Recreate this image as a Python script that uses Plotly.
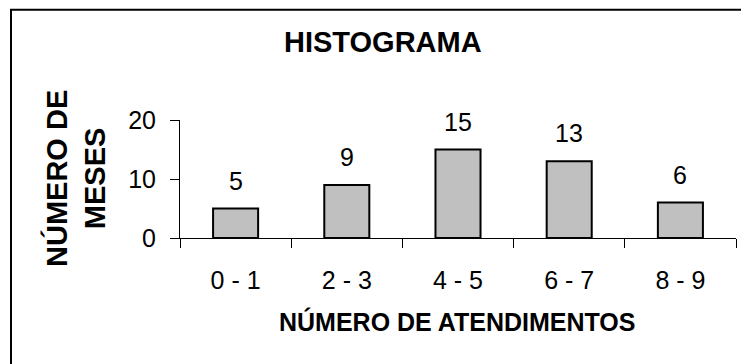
import plotly.graph_objects as go

categories = ["0 - 1", "2 - 3", "4 - 5", "6 - 7", "8 - 9"]
values = [5, 9, 15, 13, 6]
y_ticks = [0, 10, 20]
title_text = "HISTOGRAMA"
x_title = "NÚMERO DE ATENDIMENTOS"
y_title = "NÚMERO DE<br>MESES"

W, H = 749, 364
OFF = 8  # page body margin offset
# target plot area in screen pixels: x 180..736, y 120..237.7
SX0, SX1, SY0, SY1 = 180, 736, 120, 237.7
L = SX0 - OFF
R = W - (SX1 - OFF)
T = SY0 - OFF
B = H - (SY1 - OFF)
pw, ph = W - L - R, H - T - B

def px_x(sx):
    return (sx - SX0) / (SX1 - SX0)

def px_y(sy):
    return (SY1 - sy) / (SY1 - SY0)

FONT = "Liberation Sans, Arial, sans-serif"

fig = go.Figure()
fig.add_trace(go.Bar(
    x=categories, y=values, width=0.405,
    marker=dict(color="#c0c0c0", line=dict(color="black", width=2)),
    hoverinfo="skip",
))

annotations = []
for c, v in zip(categories, values):
    annotations.append(dict(x=c, y=v, xref="x", yref="y", text=str(v),
                            showarrow=False, yanchor="bottom", yshift=12,
                            font=dict(family=FONT, size=25, color="black")))
annotations.append(dict(x=px_x(382.5), y=px_y(42), xref="paper", yref="paper",
                        text="<b>%s</b>" % title_text, showarrow=False,
                        xanchor="center", yanchor="middle",
                        font=dict(family=FONT, size=29, color="black")))
annotations.append(dict(x=px_x(457.5), y=px_y(321), xref="paper", yref="paper",
                        text="<b>%s</b>" % x_title, showarrow=False,
                        xanchor="center", yanchor="middle",
                        font=dict(family=FONT, size=25, color="black")))
annotations.append(dict(x=px_x(75), y=0.5, xref="paper", yref="paper",
                        text="<b>%s</b>" % y_title, showarrow=False,
                        textangle=-90, xanchor="center", yanchor="middle",
                        font=dict(family=FONT, size=29, color="black")))

shapes = [dict(type="rect", xref="paper", yref="paper",
               x0=px_x(11), x1=px_x(790), y0=px_y(10), y1=px_y(400),
               line=dict(color="black", width=2), fillcolor="rgba(0,0,0,0)",
               layer="below")]

fig.update_layout(
    width=W, height=H,
    margin=dict(l=L, r=R, t=T, b=B),
    paper_bgcolor="white", plot_bgcolor="white",
    showlegend=False,
    annotations=annotations,
    shapes=shapes,
    font=dict(family=FONT, size=25, color="black"),
    xaxis=dict(type="category", range=[-0.5, 4.5], showline=True, linecolor="black",
               linewidth=1, ticks="outside", tickson="boundaries", ticklen=9,
               tickcolor="black", showgrid=False, zeroline=False,
               tickfont=dict(family=FONT, size=25), ticklabelstandoff=20),
    yaxis=dict(range=[0, 20], tickvals=y_ticks, showline=True, linecolor="black",
               linewidth=1, ticks="outside", ticklen=9, tickcolor="black",
               showgrid=False, zeroline=False,
               tickfont=dict(family=FONT, size=25), ticklabelstandoff=9),
)

fig.write_html("out.html")
